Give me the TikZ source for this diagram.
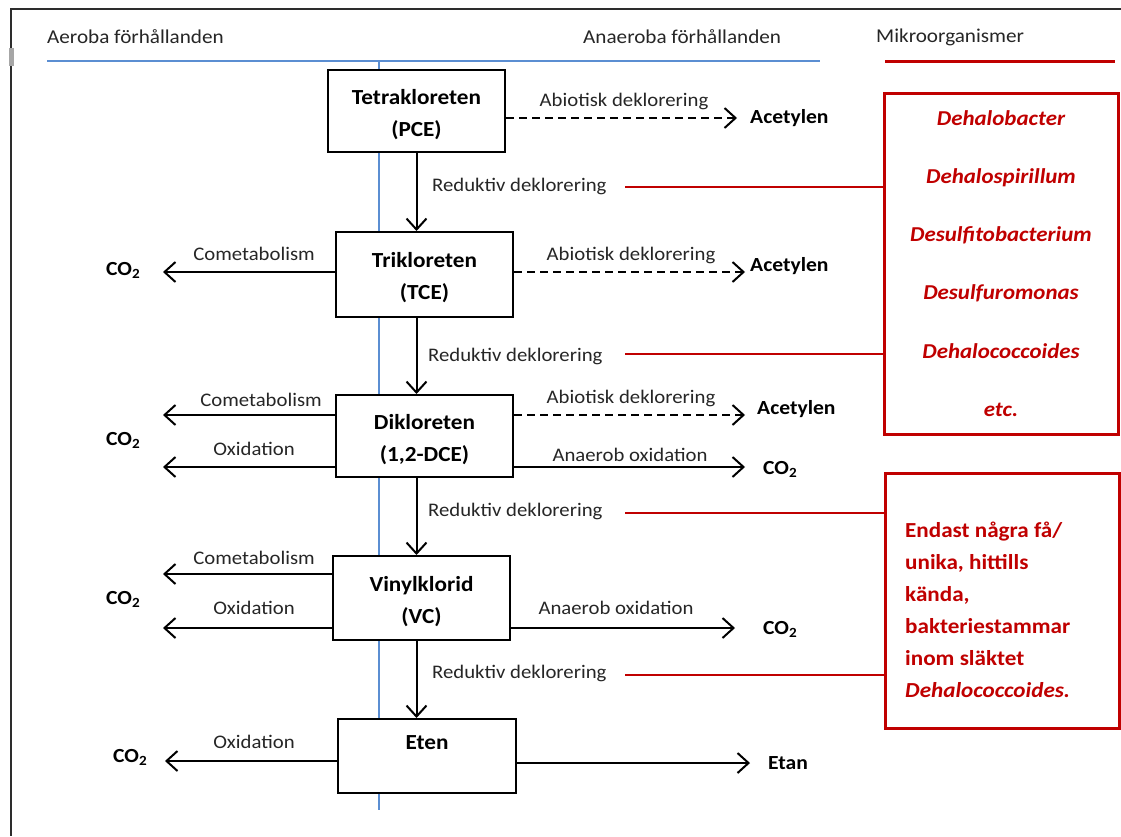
\documentclass[tikz,border=0pt]{standalone}
\usepackage{fontspec}
\setmainfont{Carlito}[FakeStretch=1.08]
\usetikzlibrary{arrows.meta}
\definecolor{zoneblue}{RGB}{91,142,210}
\definecolor{microred}{RGB}{192,0,0}
\definecolor{framegray}{RGB}{45,45,45}
\newcommand\boxfnt{\fontsize{21.5}{32}\selectfont\bfseries}
\newcommand\lblfnt{\fontsize{19.2}{22}\selectfont}
\newcommand\hdrfnt{\fontsize{19.6}{22}\selectfont}
\newcommand\prodfnt{\fontsize{20}{22}\selectfont\bfseries}
\newcommand\orgfnt{\fontsize{21.2}{58.2}\selectfont\bfseries\itshape}
\newcommand\notefnt{\fontsize{21.4}{32}\selectfont\bfseries}
\newcommand\toprule{\rule{0pt}{22pt}}
\tikzset{
  chem/.style={draw, line width=2pt, fill=white, font=\boxfnt, align=center, inner sep=0pt},
  pathlbl/.style={font=\lblfnt, text=black!85, inner sep=0pt},
  prod/.style={font=\prodfnt, inner sep=0pt, anchor=west},
  hdr/.style={font=\hdrfnt, text=black!85, inner sep=0pt, anchor=west},
  flow/.style={line width=2pt, -{Straight Barb[length=11pt,width=20pt]}},
  abio/.style={flow, dash pattern=on 8pt off 5pt},
  zone/.style={draw=zoneblue, line width=2pt},
  link/.style={draw=microred, line width=2pt},
  orgbox/.style={draw=microred, line width=3pt, fill=white, inner sep=0pt},
}
\begin{document}
\begin{tikzpicture}[x=1pt,y=-1pt]
\useasboundingbox (0,0) rectangle (1121,836);
\fill[white] (0,0) rectangle (1121,836);

% page frame
\draw[framegray, line width=2.5pt] (10,9) -- (1121,9);
\draw[framegray, line width=2.5pt] (11,9) -- (11,836);
\fill[gray!70] (8.5,48) rectangle (13.5,66);

% column headings
\node[hdr] (haer) at (47,37) {Aeroba förhållanden};
\node[hdr] (hana) at (583,37) {Anaeroba förhållanden};
\node[hdr] (hmik) at (876,37) {Mikroorganismer};
\coordinate (zl) at (47,61);
\coordinate (zr) at (820,61);
\coordinate (zt) at (379,61);
\coordinate (zb) at (379,810);
\draw[zone] (zl) -- (zr);
\draw[zone] (zt) -- (zb);
\coordinate (ml) at (885,61);
\coordinate (mr) at (1115,61);
\draw[link, line width=3pt] (ml) -- (mr);

% compounds
\node[chem, minimum width=177pt, minimum height=82pt] (pce) at (416.5,111) {\toprule Tetrakloreten\\(PCE)};
\node[chem, minimum width=177pt, minimum height=85pt] (tce) at (424.5,274.5) {\toprule Trikloreten\\(TCE)};
\node[chem, minimum width=177pt, minimum height=82pt] (dce) at (424.5,436) {\toprule Dikloreten\\(1,2-DCE)};
\node[chem, minimum width=177pt, minimum height=84pt] (vc) at (421.5,598) {\toprule Vinylklorid\\(VC)};
\node[chem, minimum width=178pt, minimum height=74pt] (eten) at (427,756) {\toprule Eten\\\phantom{(VC)}};

% reductive dechlorination chain
\draw[flow] (pce.south) -- (pce.south |- tce.north);
\draw[flow] (tce.south -| pce.south) -- (dce.north -| pce.south);
\draw[flow] (dce.south -| pce.south) -- (vc.north -| pce.south);
\draw[flow] (vc.south -| pce.south) -- (eten.north -| pce.south);
\node[pathlbl, anchor=west] (rd1) at (432,186) {Reduktiv deklorering};
\node[pathlbl, anchor=west] (rd2) at (428,356) {Reduktiv deklorering};
\node[pathlbl, anchor=west] (rd3) at (428,511) {Reduktiv deklorering};
\node[pathlbl, anchor=west] (rd4) at (432,673) {Reduktiv deklorering};

% products
\node[prod] (ac1) at (750,118) {Acetylen};
\node[prod] (ac2) at (750,266) {Acetylen};
\node[prod] (ac3) at (757,409) {Acetylen};
\node[prod] (co2a) at (106,270) {CO\textsubscript{2}};
\node[prod] (co2b) at (106,440) {CO\textsubscript{2}};
\node[prod] (co2c) at (763,469) {CO\textsubscript{2}};
\node[prod] (co2d) at (106,599) {CO\textsubscript{2}};
\node[prod] (co2e) at (763,629) {CO\textsubscript{2}};
\node[prod] (co2f) at (113,757) {CO\textsubscript{2}};
\node[prod] (etan) at (768,763) {Etan};

% arrow end points
\coordinate (e1) at (737,118);
\coordinate (e2) at (745,272);
\coordinate (e3) at (163,272);
\coordinate (e4) at (745,415);
\coordinate (e5) at (745,467);
\coordinate (e6) at (163,415);
\coordinate (e7) at (163,467);
\coordinate (e8) at (163,574);
\coordinate (e9) at (163,628);
\coordinate (e10) at (735,628);
\coordinate (e11) at (165,761);
\coordinate (e12) at (750,763);

% PCE
\draw[abio] (pce.east |- e1) -- (e1);
\node[pathlbl] (l1) at (624,101) {Abiotisk deklorering};
% TCE
\draw[abio] (tce.east |- e2) -- (e2);
\node[pathlbl] (l2) at (631,255) {Abiotisk deklorering};
\draw[flow] (tce.west |- e3) -- (e3);
\node[pathlbl] (l3) at (254,254) {Cometabolism};
% DCE
\draw[abio] (dce.east |- e4) -- (e4);
\node[pathlbl] (l4) at (631,398) {Abiotisk deklorering};
\draw[flow] (dce.east |- e5) -- (e5);
\node[pathlbl] (l5) at (630,455) {Anaerob oxidation};
\draw[flow] (dce.west |- e6) -- (e6);
\node[pathlbl] (l6) at (261,400) {Cometabolism};
\draw[flow] (dce.west |- e7) -- (e7);
\node[pathlbl] (l7) at (254,449) {Oxidation};
% VC
\draw[flow] (vc.west |- e8) -- (e8);
\node[pathlbl] (l8) at (254,558) {Cometabolism};
\draw[flow] (vc.west |- e9) -- (e9);
\node[pathlbl] (l9) at (254,608) {Oxidation};
\draw[flow] (vc.east |- e10) -- (e10);
\node[pathlbl] (l10) at (616,608) {Anaerob oxidation};
% Eten
\draw[flow] (eten.west |- e11) -- (e11);
\node[pathlbl] (l11) at (254,742) {Oxidation};
\draw[flow] (eten.east |- e12) -- (e12);

% microorganisms
\node[orgbox, minimum width=234pt, minimum height=341pt] (org1) at (1001,263.5) {};
\node[font=\orgfnt, text=microred, align=center, inner sep=0pt] (org1t) at (org1.center)
  {Dehalobacter\\Dehalospirillum\\Desulfitobacterium\\Desulfuromonas\\Dehalococcoides\\etc.};
\node[orgbox, minimum width=234pt, minimum height=255pt] (org2) at (1002,600.5) {};
\node[font=\notefnt, text=microred, align=left, inner sep=0pt, anchor=west] (org2t) at (905,610)
  {Endast några få/\\unika, hittills\\kända,\\bakteriestammar\\inom släktet\\\textit{Dehalococcoides.}};

% links from the reductive steps to the organisms
\coordinate (k1) at (625,187);
\coordinate (k2) at (625,354);
\coordinate (k3) at (625,513);
\coordinate (k4) at (625,675);
\draw[link] (k1) -- (k1 -| org1.west);
\draw[link] (k2) -- (k2 -| org1.west);
\draw[link] (k3) -- (k3 -| org2.west);
\draw[link] (k4) -- (k4 -| org2.west);
\end{tikzpicture}
\end{document}
